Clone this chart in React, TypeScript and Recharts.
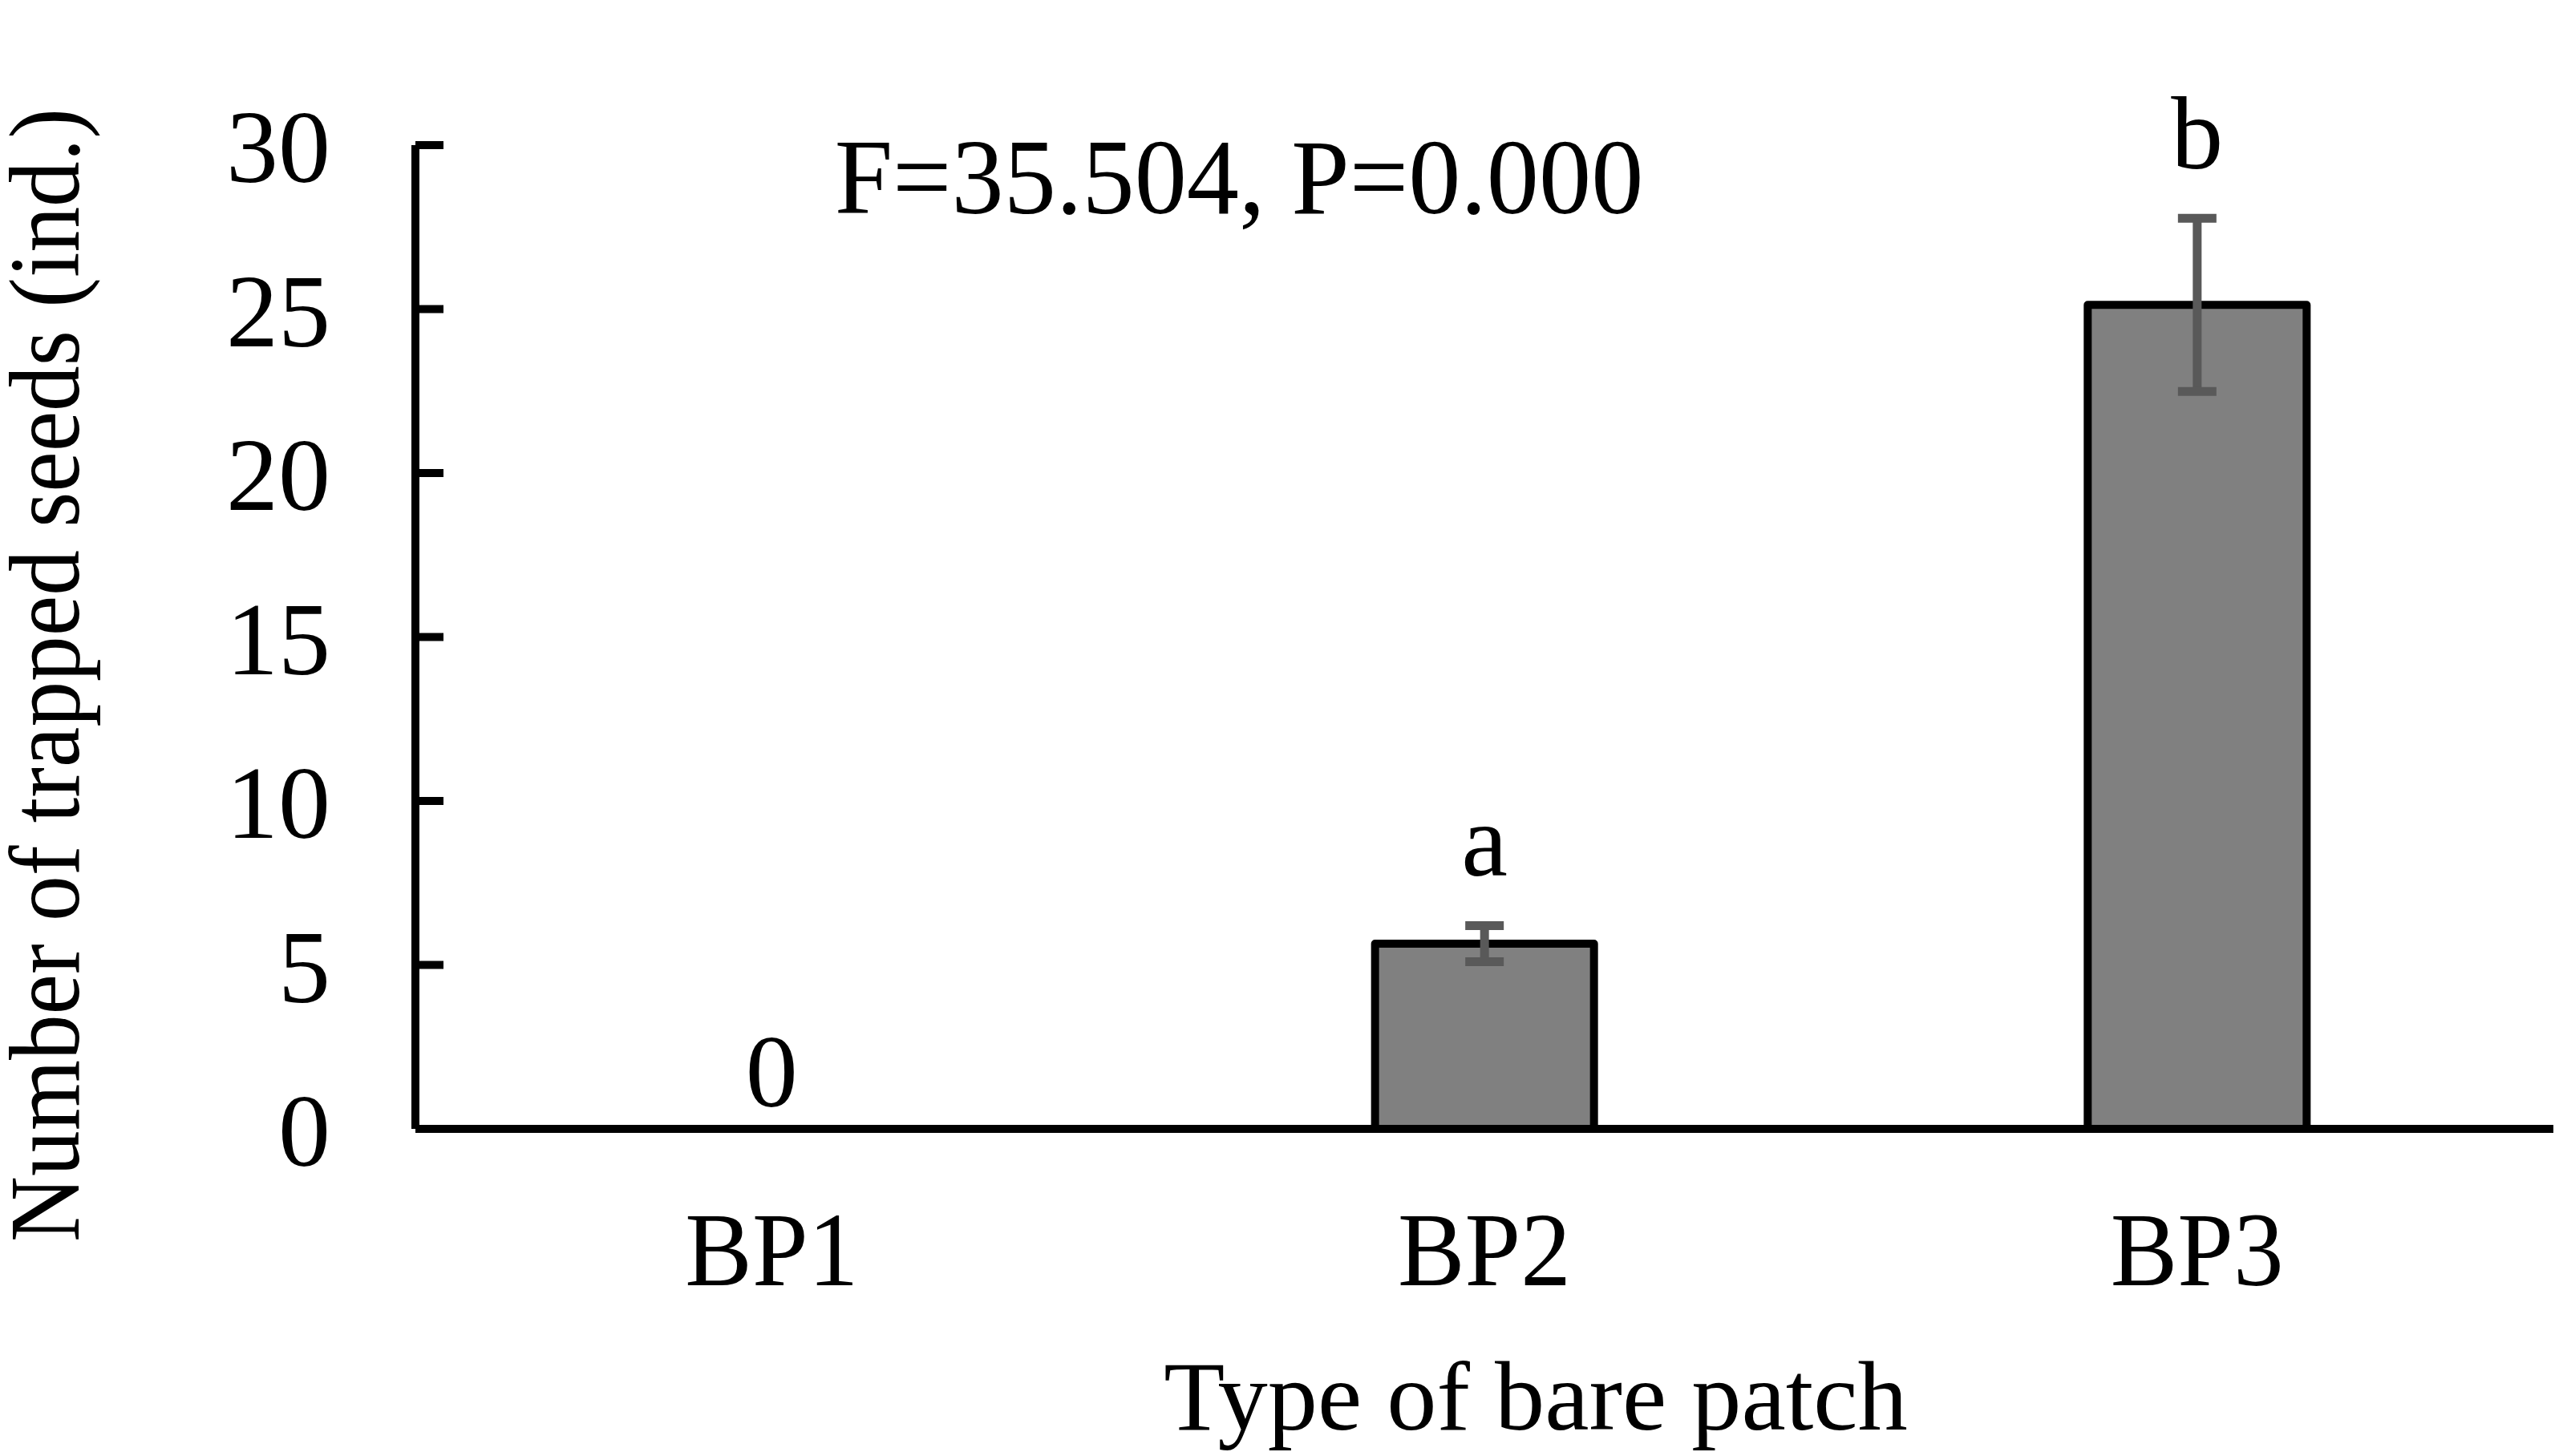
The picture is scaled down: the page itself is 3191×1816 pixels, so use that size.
import {
  Bar,
  ComposedChart,
  Customized,
  ErrorBar,
  LabelList,
  Line,
  XAxis,
  YAxis,
} from "recharts";

const categories = ["BP1", "BP2", "BP3"];
const meanSeeds = [0, 5.65, 25.13];
const seError = [0, 0.55, 2.64];
const groupLetters = ["0", "a", "b"];
const yTicks = [0, 5, 10, 15, 20, 25, 30];

const data = categories.map((name, i) => ({
  name,
  mean: meanSeeds[i],
  se: seError[i],
  top: meanSeeds[i] + seError[i],
  letter: groupLetters[i],
}));

const FONT = "'Liberation Serif', 'Times New Roman', serif";

function CategoryTick({ x, y, payload }: any) {
  return (
    <text
      transform={`translate(${x},${y + 195}) scale(0.95,1)`}
      textAnchor="middle"
      fontFamily={FONT}
      fontSize={132}
      fill="#000"
    >
      {payload.value}
    </text>
  );
}

function LetterLabel({ x, y, value, index }: any) {
  const offset = data[index].top === 0 ? 28 : 62;
  return (
    <text
      x={x}
      y={y - offset}
      textAnchor="middle"
      fontFamily={FONT}
      fontSize={130}
      fill="#000"
    >
      {value}
    </text>
  );
}

function Titles() {
  return (
    <g fontFamily={FONT} fill="#000">
      <text
        transform="translate(1545,266) scale(0.98,1)"
        textAnchor="middle"
        fontSize={133}
      >
        F=35.504, P=0.000
      </text>
      <text
        transform="translate(1915,1783) scale(1.02,1)"
        textAnchor="middle"
        fontSize={122}
      >
        Type of bare patch
      </text>
      <text
        transform="translate(98,842) rotate(-90) scale(0.9,1)"
        textAnchor="middle"
        fontSize={126}
      >
        Number of trapped seeds (ind.)
      </text>
    </g>
  );
}

export default function App() {
  return (
    <div
      style={{
        position: "absolute",
        left: 0,
        top: 0,
        width: 3191,
        height: 1816,
        background: "#fff",
      }}
    >
      <ComposedChart
        width={3191}
        height={1816}
        data={data}
        margin={{ top: 181, right: 7, left: 0, bottom: 0 }}
      >
        <XAxis
          dataKey="name"
          height={408}
          axisLine={{ stroke: "#000", strokeWidth: 10 }}
          tickLine={false}
          tickSize={0}
          tickMargin={0}
          tick={<CategoryTick />}
        />
        <YAxis
          width={518}
          domain={[0, 30]}
          ticks={yTicks}
          interval={0}
          axisLine={{ stroke: "#000", strokeWidth: 10 }}
          tickLine={{ stroke: "#000", strokeWidth: 10 }}
          tickSize={-35}
          tickMargin={141}
          tick={{ fontFamily: FONT, fontSize: 130, fill: "#000" }}
        />
        <Bar
          dataKey="mean"
          fill="#808080"
          stroke="#000"
          strokeWidth={10}
          strokeLinejoin="round"
          barSize={273}
          isAnimationActive={false}
        >
          <ErrorBar
            dataKey="se"
            width={24}
            stroke="#595959"
            strokeWidth={11}
            isAnimationActive={false}
          />
        </Bar>
        <Line
          dataKey="top"
          stroke="none"
          dot={false}
          activeDot={false}
          legendType="none"
          isAnimationActive={false}
        >
          <LabelList dataKey="letter" content={<LetterLabel />} />
        </Line>
        <Customized component={<Titles />} />
      </ComposedChart>
    </div>
  );
}
